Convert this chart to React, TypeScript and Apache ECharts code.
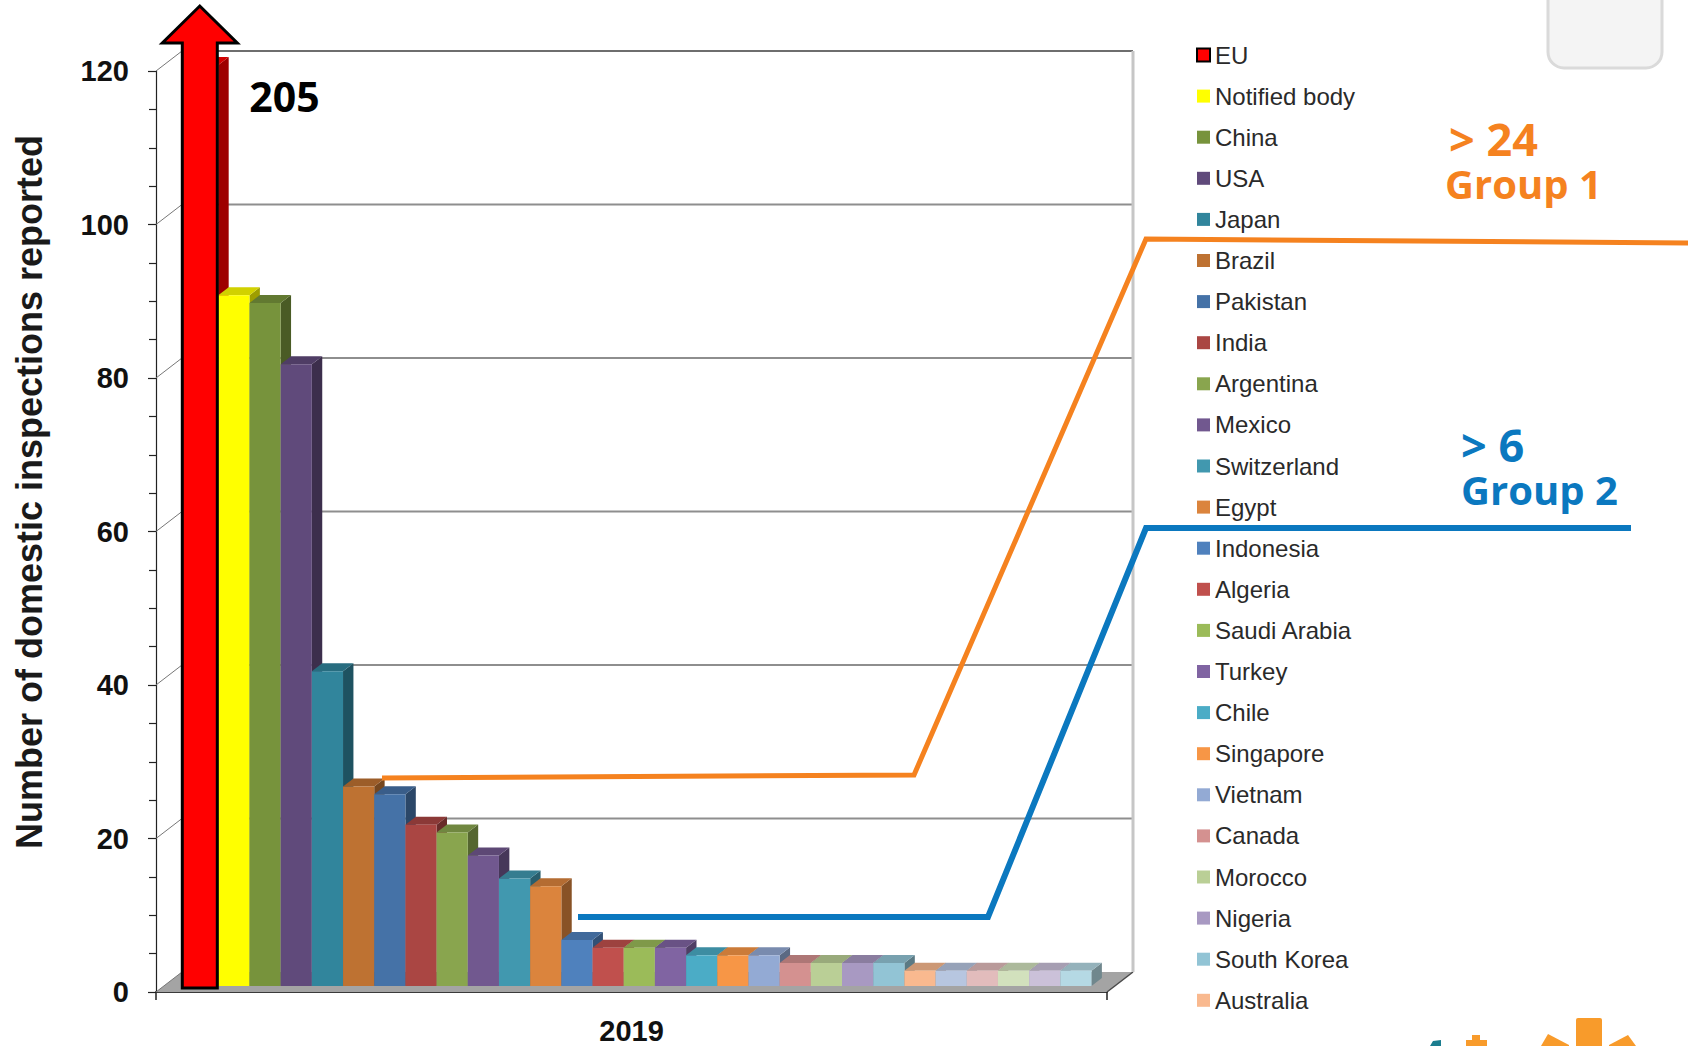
import React, { useEffect, useRef } from 'react';
import * as echarts from 'echarts';

// ---------- data ----------
const CATEGORIES = ['2019'];
const COUNTRIES = [
  'EU', 'Notified body', 'China', 'USA', 'Japan', 'Brazil', 'Pakistan', 'India',
  'Argentina', 'Mexico', 'Switzerland', 'Egypt', 'Indonesia', 'Algeria', 'Saudi Arabia',
  'Turkey', 'Chile', 'Singapore', 'Vietnam', 'Canada', 'Morocco', 'Nigeria',
  'South Korea', 'Australia',
];
const COUNTRY_VALUES = [205, 90, 89, 81, 41, 26, 25, 21, 20, 17, 14, 13, 6, 5, 5, 5, 4, 4, 4, 3, 3, 3, 3, 2];
// bars beyond the visible (cut-off) legend
const UNLISTED_NAMES = ['Other 1', 'Other 2', 'Other 3', 'Other 4', 'Other 5'];
const UNLISTED_VALUES = [2, 2, 2, 2, 2];
const COUNTRY_COLORS = [
  '#ff0000', '#ffff00', '#77933c', '#604a7b', '#31859c', '#be7232', '#4572a7', '#aa4643',
  '#89a54e', '#71588f', '#4198af', '#db843d', '#4f81bd', '#c0504d', '#9bbb59',
  '#8064a2', '#4bacc6', '#f79646', '#93aad4', '#d49190', '#bacf96', '#a899c2',
  '#92c4d5', '#f9b98f',
];
const UNLISTED_COLORS = ['#b7c6e0', '#e2bcbc', '#d2e1bd', '#cbc1d9', '#b5d9e4'];
const Y_TICKS = [0, 20, 40, 60, 80, 100, 120];
const Y_TITLE = 'Number of domestic inspections reported';
const GROUP1 = ['> 24', 'Group 1'];
const GROUP2 = ['> 6', 'Group 2'];

// ---------- style constants ----------
const Y_MIN = Y_TICKS[0];
const Y_MAX = Y_TICKS[Y_TICKS.length - 1];
const Y_STEP = Y_TICKS[1] - Y_TICKS[0];
const DX = 26; // depth of the 3D box
const DY = -20;
const BAR_FRONT = 0.3; // bar depth position
const BAR_DEPTH = 0.4;
const GROUP_FRAC = 0.951;
const ORANGE = '#f5821f';
const BLUE = '#0b78bf';

const ALL_NAMES = [...COUNTRIES, ...UNLISTED_NAMES];
const ALL_VALUES = [...COUNTRY_VALUES, ...UNLISTED_VALUES];
const ALL_COLORS = [...COUNTRY_COLORS, ...UNLISTED_COLORS];
const N = ALL_NAMES.length;

function shade(hex: string, f: number) {
  const n = parseInt(hex.slice(1), 16);
  const r = Math.round(((n >> 16) & 255) * f);
  const g = Math.round(((n >> 8) & 255) * f);
  const b = Math.round((n & 255) * f);
  return `rgb(${r},${g},${b})`;
}

function slot(api: any, idx: number) {
  const c = api.coord([0, Y_MIN]);
  const band = api.size([1, 0])[0];
  const bw = (band * GROUP_FRAC) / N;
  const left = c[0] - band / 2 + (band - bw * N) / 2 + idx * bw;
  return { left, bw, yBase: c[1], band, cx: c[0] };
}

function makeBarRender(idx: number, color: string) {
  return (_params: any, api: any) => {
    const v = Math.min(api.value(1), Y_MAX);
    const s = slot(api, idx);
    const pv = api.coord([0, v]);
    const fx = BAR_FRONT * DX;
    const fy = BAR_FRONT * DY;
    const ddx = BAR_DEPTH * DX;
    const ddy = BAR_DEPTH * DY;
    const x = s.left + fx;
    const yb = s.yBase + fy;
    const yt = pv[1] + fy;
    const w = s.bw;
    return {
      type: 'group',
      children: [
        {
          type: 'polygon',
          shape: { points: [[x + w, yt], [x + w + ddx, yt + ddy], [x + w + ddx, yb + ddy], [x + w, yb]] },
          style: { fill: shade(color, 0.62) },
        },
        {
          type: 'polygon',
          shape: { points: [[x, yt], [x + w, yt], [x + w + ddx, yt + ddy], [x + ddx, yt + ddy]] },
          style: { fill: shade(color, 0.82) },
        },
        {
          type: 'rect',
          shape: { x, y: yt, width: w, height: yb - yt },
          style: { fill: color },
        },
      ],
    };
  };
}

function wallRender(_params: any, api: any) {
  const v = api.value(1);
  const p = api.coord([0, v]);
  const p0 = api.coord([0, Y_MIN]);
  const band = api.size([1, 0])[0];
  const xl = p[0] - band / 2;
  const xr = p[0] + band / 2;
  const y = p[1];
  const children: any[] = [];
  if (v === Y_MIN) {
    children.push({
      type: 'polygon',
      shape: { points: [[xl, y], [xr, y], [xr + DX, y + DY], [xl + DX, y + DY]] },
      style: { fill: '#a4a4a4' },
    });
    children.push({
      type: 'line',
      shape: { x1: xr, y1: y, x2: xr + DX, y2: y + DY },
      style: { stroke: '#4a4a4a', lineWidth: 1.5 },
    });
  } else {
    children.push({
      type: 'line',
      shape: { x1: xl + DX, y1: y + DY, x2: xr + DX, y2: y + DY },
      style: { stroke: v === Y_MAX ? '#6e6e6e' : '#8e8e8e', lineWidth: 2 },
    });
  }
  children.push({
    type: 'line',
    shape: { x1: xl, y1: y, x2: xl + DX, y2: y + DY },
    style: { stroke: '#777', lineWidth: 1 },
  });
  if (v === Y_MAX) {
    children.push({
      type: 'line',
      shape: { x1: xr + DX, y1: y + DY, x2: xr + DX, y2: p0[1] + DY },
      style: { stroke: '#c6c6c6', lineWidth: 3 },
    });
    children.push({
      type: 'line',
      shape: { x1: xl + DX, y1: y + DY, x2: xl + DX, y2: p0[1] + DY },
      style: { stroke: '#999', lineWidth: 1 },
    });
  }
  return { type: 'group', children };
}

function arrowRender(_params: any, api: any) {
  const s = slot(api, 0);
  const yT = api.coord([0, Y_MAX])[1];
  const xF = s.left;
  const sl = xF + 3;
  const sr = xF + 38;
  const hl = xF - 17;
  const hr = xF + 58;
  const tip = (sl + sr) / 2;
  const headBase = yT - 28;
  const tipY = yT - 65;
  const bottom = s.yBase - 4;
  return {
    type: 'group',
    children: [
      {
        type: 'polygon',
        shape: {
          points: [[sl, bottom], [sl, headBase], [hl, headBase], [tip, tipY], [hr, headBase], [sr, headBase], [sr, bottom]],
        },
        style: { fill: '#ff0000', stroke: '#000', lineWidth: 3, lineJoin: 'miter' },
      },
      {
        type: 'text',
        x: xF + 70,
        y: yT + 25,
        style: {
          text: String(api.value(1)),
          fill: '#000',
          fontSize: 41,
          fontWeight: 'bold',
          fontFamily: 'Open Sans',
          align: 'left',
          verticalAlign: 'middle',
          textAlign: 'left',
          textVerticalAlign: 'middle',
        },
      },
    ],
  };
}

function groupLabel(lines: string[], color: string, x: number, yTop: number, indent: number) {
  return {
    type: 'text',
    z: 10,
    x,
    y: yTop,
    style: {
      text: `{a|${lines[0]}}\n{b|${lines[1]}}`,
      align: 'left',
      verticalAlign: 'top',
      textAlign: 'left',
      textVerticalAlign: 'top',
      rich: {
        a: {
          fill: color,
          color,
          fontSize: 45,
          fontWeight: 'bold',
          fontFamily: 'Open Sans',
          lineHeight: 44,
          padding: [0, 0, 0, indent],
        },
        b: {
          fill: color,
          color,
          fontSize: 40,
          fontWeight: 'bold',
          fontFamily: 'Open Sans',
          lineHeight: 46,
        },
      },
    },
  };
}

function buildOption() {
  const barSeries = ALL_NAMES.map((name, i) => ({
    type: 'custom',
    name,
    data: [[0, ALL_VALUES[i]]],
    encode: { x: 0, y: 1 },
    renderItem: makeBarRender(i, ALL_COLORS[i]),
    itemStyle: { color: ALL_COLORS[i] },
    clip: false,
    silent: true,
    z: 2,
  }));

  const legendData = COUNTRIES.map((name, i) =>
    i === 0
      ? { name, itemStyle: { color: COUNTRY_COLORS[0], borderColor: '#000', borderWidth: 2 } }
      : { name, itemStyle: { color: COUNTRY_COLORS[i] } }
  );

  return {
    animation: false,
    backgroundColor: '#ffffff',
    grid: {
      left: 156,
      top: 71,
      width: 951,
      height: 921,
      containLabel: false,
      outerBoundsMode: 'none',
    },
    legend: {
      show: true,
      orient: 'vertical',
      left: 1196,
      top: 42,
      padding: 0,
      itemGap: 15.1,
      itemWidth: 13,
      itemHeight: 13,
      icon: 'rect',
      selectedMode: false,
      data: legendData,
      textStyle: {
        fontSize: 24,
        fontFamily: 'Liberation Sans',
        color: '#2a2a2a',
        lineHeight: 26,
      },
    },
    xAxis: {
      type: 'category',
      data: CATEGORIES,
      axisLine: { show: true, lineStyle: { color: '#3a3a3a', width: 2 } },
      axisTick: { show: true, length: 8, alignWithLabel: false, lineStyle: { color: '#222', width: 1.5 } },
      axisLabel: {
        show: true,
        fontSize: 29,
        fontWeight: 'bold',
        fontFamily: 'Liberation Sans',
        color: '#111',
        margin: 24,
      },
      splitLine: { show: false },
    },
    yAxis: {
      type: 'value',
      min: Y_MIN,
      max: Y_MAX,
      interval: Y_STEP,
      axisLine: { show: true, lineStyle: { color: '#222', width: 1.2 } },
      axisTick: { show: true, length: 8, inside: false, lineStyle: { color: '#222', width: 1.2 } },
      minorTick: { show: true, splitNumber: 4, length: 7, lineStyle: { color: '#222', width: 1.2 } },
      splitLine: { show: false },
      axisLabel: {
        fontSize: 29,
        fontWeight: 'bold',
        fontFamily: 'Liberation Sans',
        color: '#111',
        margin: 27,
      },
    },
    series: [
      {
        type: 'custom',
        name: 'walls',
        data: Y_TICKS.map((v) => [0, v]),
        encode: { x: 0, y: 1 },
        renderItem: wallRender,
        clip: false,
        silent: true,
        z: 1,
      },
      ...barSeries,
      {
        type: 'custom',
        name: 'EU arrow',
        data: [[0, COUNTRY_VALUES[0]]],
        encode: { x: 0, y: 1 },
        renderItem: arrowRender,
        clip: false,
        silent: true,
        z: 5,
      },
    ],
    graphic: [
      {
        type: 'text',
        z: 10,
        x: 29,
        y: 492,
        rotation: Math.PI / 2,
        style: {
          text: Y_TITLE,
          fill: '#1a1a1a',
          fontSize: 36,
          fontWeight: 'bold',
          fontFamily: 'Liberation Sans',
          align: 'center',
          verticalAlign: 'middle',
          textAlign: 'center',
          textVerticalAlign: 'middle',
        },
      },
      {
        type: 'polyline',
        z: 10,
        shape: { points: [[382, 778], [914, 775], [1146, 239], [1688, 243]] },
        style: { stroke: ORANGE, lineWidth: 5, fill: 'none' },
      },
      {
        type: 'polyline',
        z: 10,
        shape: { points: [[578, 917], [988, 917], [1146, 528], [1631, 528]] },
        style: { stroke: BLUE, lineWidth: 6, fill: 'none' },
      },
      groupLabel(GROUP1, ORANGE, 1445, 116, 4),
      groupLabel(GROUP2, BLUE, 1461, 422, 0),
      {
        type: 'rect',
        z: 10,
        shape: { x: 1548, y: -30, width: 114, height: 98, r: 16 },
        style: { fill: '#f4f4f4', stroke: '#dadada', lineWidth: 3 },
      },
      {
        type: 'rect',
        z: 10,
        shape: { x: 1576, y: 1018, width: 26, height: 40, r: 2 },
        style: { fill: '#f89b2b' },
      },
      {
        type: 'polygon',
        z: 10,
        shape: { points: [[1541, 1046], [1548, 1034], [1569, 1045], [1569, 1046]] },
        style: { fill: '#f89b2b' },
      },
      {
        type: 'polygon',
        z: 10,
        shape: { points: [[1628, 1035], [1609, 1045], [1609, 1046], [1636, 1046]] },
        style: { fill: '#f89b2b' },
      },
      {
        type: 'rect',
        z: 10,
        shape: { x: 1472, y: 1035, width: 8, height: 12 },
        style: { fill: '#f89b2b' },
      },
      {
        type: 'rect',
        z: 10,
        shape: { x: 1466, y: 1040, width: 21, height: 6 },
        style: { fill: '#f89b2b' },
      },
      {
        type: 'polygon',
        z: 10,
        shape: { points: [[1430, 1046], [1433, 1041], [1441, 1040], [1441, 1046]] },
        style: { fill: '#1b7d8f' },
      },
    ],
  };
}

export default function App() {
  const ref = useRef<HTMLDivElement>(null);
  useEffect(() => {
    if (!ref.current) return;
    const chart = echarts.init(ref.current, null, { renderer: 'svg' });
    chart.setOption(buildOption() as any);
    return () => {
      chart.dispose();
    };
  }, []);
  return (
    <div
      ref={ref}
      style={{ position: 'absolute', left: 0, top: 0, width: 1688, height: 1046, background: '#ffffff' }}
    />
  );
}
